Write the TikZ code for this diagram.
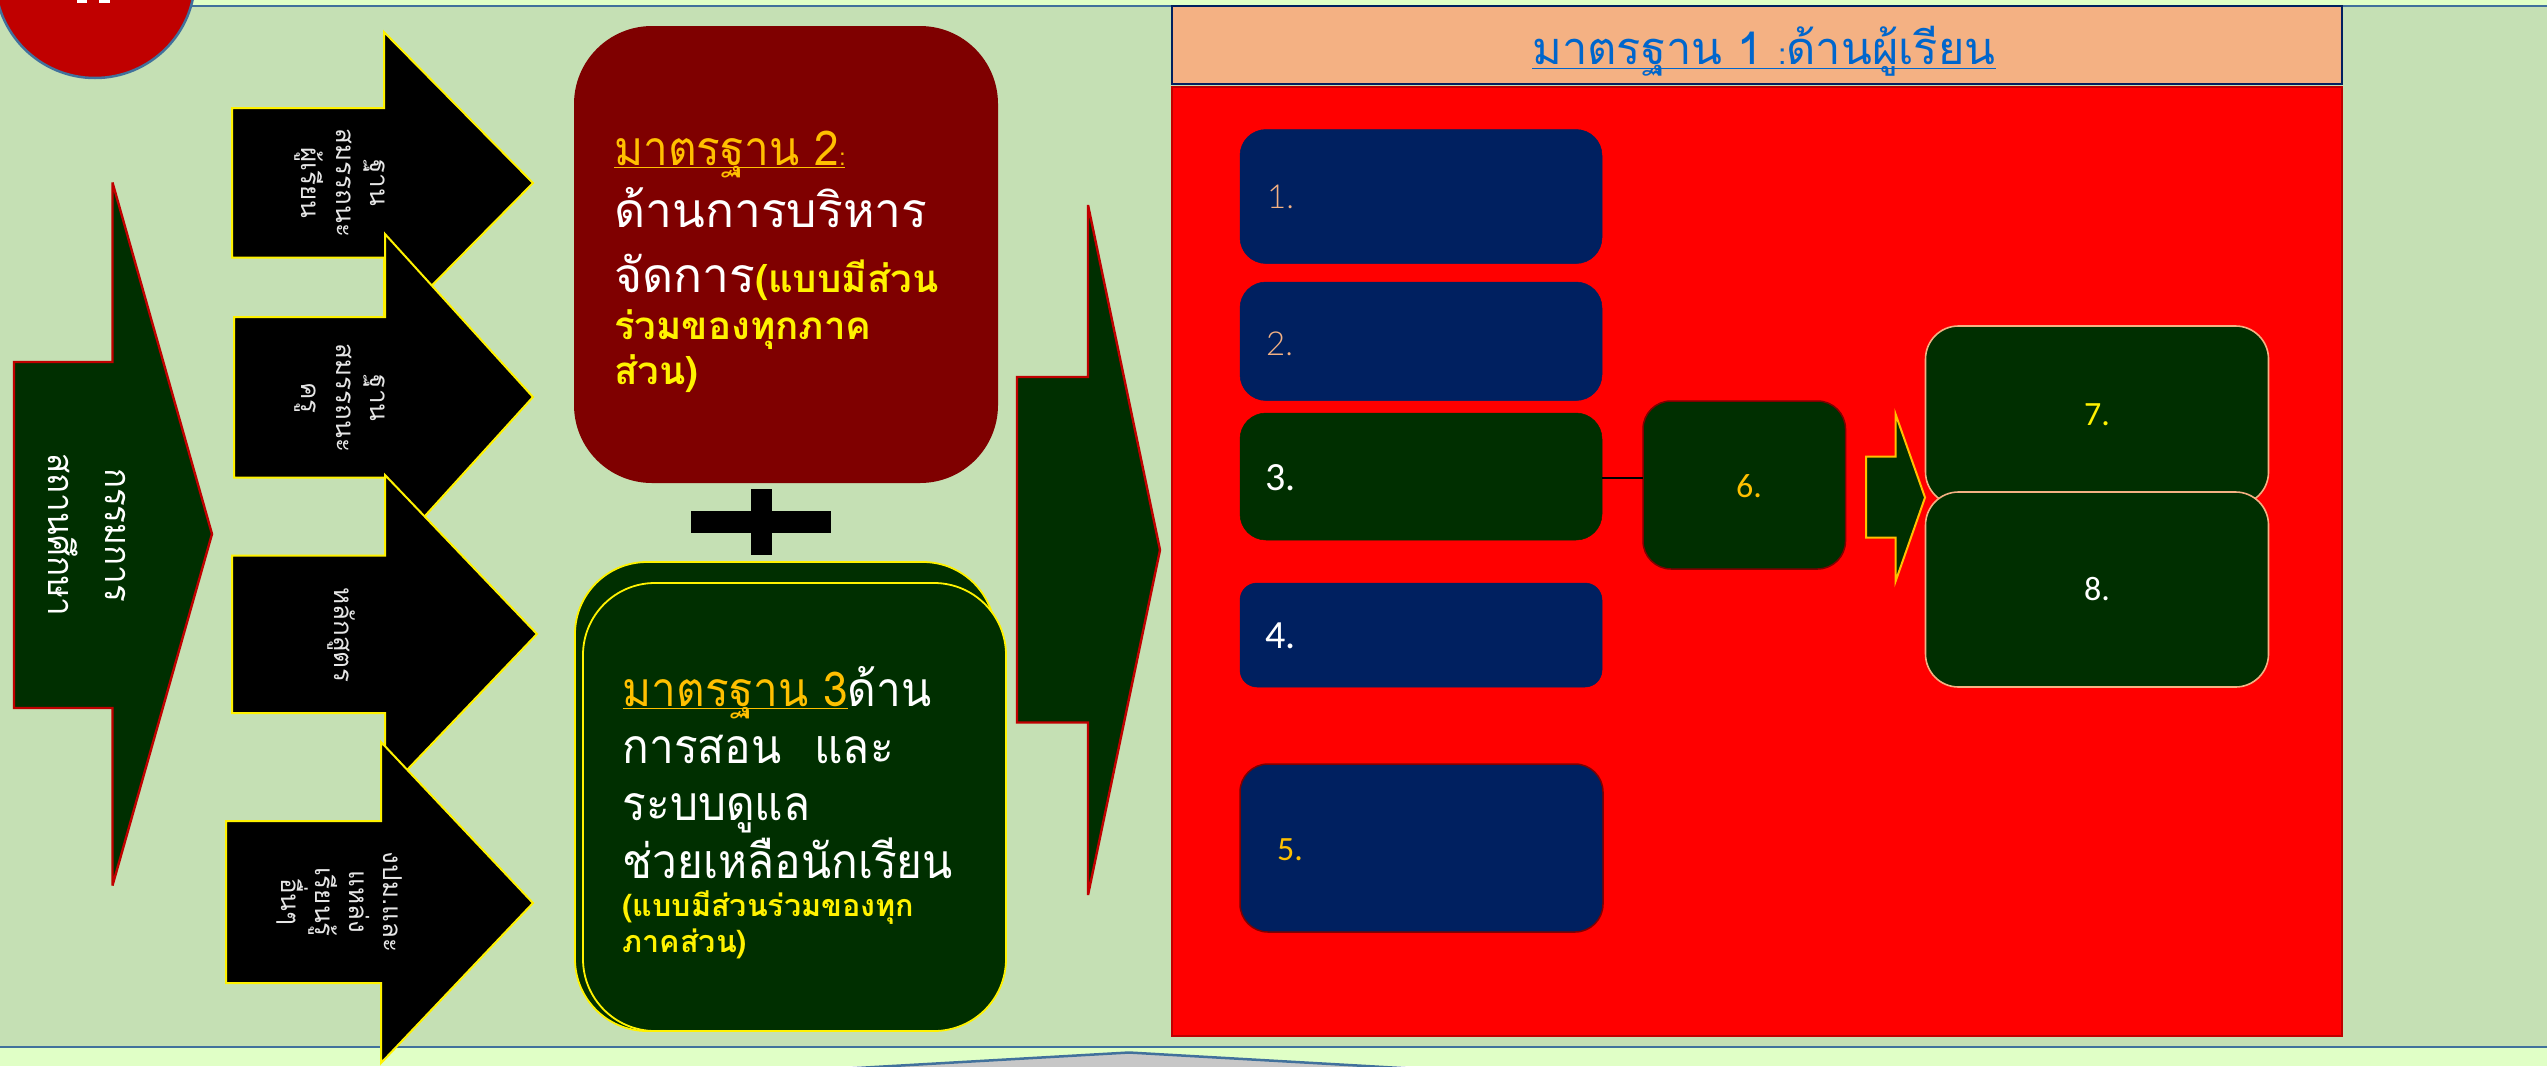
\documentclass[tikz,border=0pt]{standalone}
\usepackage{fontspec}
\newfontfamily\thaifont[Script=Thai]{Loma}
\newfontfamily\thaicond[Script=Thai,FakeStretch=0.92]{Loma}
\newfontfamily\digf{Carlito}
\newfontfamily\lightf{Lato Light}
\definecolor{bggreen}{HTML}{C5E0B4}
\definecolor{band}{HTML}{E0FFC6}
\definecolor{edgeblue}{HTML}{41719C}
\definecolor{dgreen}{HTML}{002F00}
\definecolor{navy}{HTML}{002060}
\definecolor{maroon}{HTML}{7F0000}
\definecolor{gold}{HTML}{FFC000}
\definecolor{peach}{HTML}{F4B183}
\definecolor{darkred}{HTML}{C00000}
\definecolor{linkblue}{HTML}{0066CC}
\definecolor{greyw}{HTML}{E6E6E6}
\newcommand\fs[1]{\fontsize{#1}{#1}\selectfont}
\newcommand\myul[2][3pt]{\setbox0\hbox{#2}\rlap{\rule[-#1]{\wd0}{1.5pt}}\box0}
\newcommand\tline[2]{\vbox to #1{\vss\hbox{\smash{#2}}}}
\newcommand\blockarrow[9]{\draw[#1] (#2,#3) -- (#5,#3) -- (#5,#6) -- (#7,#8) -- (#5,#9) -- (#5,#4) -- (#2,#4) -- cycle;}
\tikzset{
  box/.style={inner sep=0pt,outer sep=0pt,draw},
  blackarrow/.style={fill=black,draw=yellow,line width=2pt},
  greenarrow/.style={fill=dgreen,draw=darkred,line width=2.4pt,miter limit=3},
  vtext/.style={rotate=-90,align=center,text=greyw,inner sep=0pt},
  num/.style={anchor=base west,inner sep=0pt},
  tblock/.style={anchor=base west,inner sep=0pt},
  bluebox/.style={box,fill=navy,draw=navy,line width=0.5pt},
  greenbox/.style={box,fill=dgreen,draw=dgreen,line width=0.5pt},
}
\begin{document}
\begin{tikzpicture}[x=1pt,y=-1pt]
\useasboundingbox (0,0) rectangle (2547,1066);
\clip (0,0) rectangle (2547,1066);
% background bands
\fill[band] (0,0) rectangle (2547,1066);
\fill[bggreen] (0,6) rectangle (2547,1047);
\draw[edgeblue,line width=2.5pt] (0,6) -- (2547,6);
\draw[edgeblue,line width=2.5pt] (0,1047) -- (2547,1047);
% grey shape at bottom
\draw[fill=black!22,draw=edgeblue,line width=2.5pt] (690,1077.5) -- (1129,1052.5) -- (1568,1077.5) -- cycle;
% red circle
\draw[fill=darkred,draw=edgeblue,line width=2.5pt] (95,-22) circle[radius=100];
\fill[white] (77,0) rectangle (87,3);
\fill[white] (99,0) rectangle (110,3);
% big left arrow
\blockarrow{greenarrow}{14}{362}{708}{112.5}{182.5}{212}{534}{885.5}
\node[vtext,text=white,font=\thaicond\fontsize{36}{57}\selectfont] (committee) at (87,535) {กรรมการ\\สถานศึกษา};
% black arrows
\blockarrow{blackarrow}{232}{108}{257.5}{384}{32}{533}{183}{334}
\node[vtext,font=\thaifont\fontsize{26}{34.5}\selectfont] (a1) at (340,183) {ฐาน\\สมรรถนะ\\ผู้เรียน};
\blockarrow{blackarrow}{234}{317}{477.5}{385}{234}{533}{397}{560}
\node[vtext,font=\thaifont\fontsize{26}{34.5}\selectfont] (a2) at (340,398) {ฐาน\\สมรรถนะ\\ครู};
\blockarrow{blackarrow}{232}{555.5}{713}{385}{475}{537}{634}{793}
\node[vtext,font=\thaifont\fs{26}] (a3) at (341,635) {หลักสูตร};
\blockarrow{blackarrow}{226}{821}{983}{381}{742}{533}{903}{1063}
\node[vtext,font=\thaifont\fontsize{26}{34}\selectfont] (a4) at (340,902) {งปม.และ\\แหล่ง\\เรียนรู้\\อื่นๆ};
% standard 2
\node[box,fill=maroon,draw=none,rounded corners=78pt,minimum width=424pt,minimum height=457pt] (s2) at (786,254.5) {};
\node[tblock,font=\thaifont] (s2text) at (614,384) {\vbox{\offinterlineskip
  \tline{62pt}{\thaicond\fs{48}\color{gold}\myul{มาตรฐาน 2{\fs{24}:}}}
  \tline{62pt}{\fs{48}\color{white}ด้านการบริหาร}
  \tline{65pt}{\fs{48}\color{white}จัดการ{\bfseries\fs{38.5}\color{yellow}(แบบมีส่วน}}
  \tline{47pt}{\bfseries\fs{38.5}\color{yellow}ร่วมของทุกภาค}
  \tline{45pt}{\bfseries\fs{38.5}\color{yellow}ส่วน)}}};
% plus sign
\fill[black] (691,511) rectangle (831,533);
\fill[black] (750.5,489) rectangle (771.5,554.5);
% standard 3
\node[box,fill=dgreen,draw=yellow,line width=1.8pt,rounded corners=72pt,minimum width=420pt,minimum height=469pt] (s3back) at (785,796.5) {};
\node[box,fill=dgreen,draw=yellow,line width=1.8pt,rounded corners=72pt,minimum width=423pt,minimum height=448pt] (s3) at (794.5,807) {};
\node[tblock,font=\thaicond] (s3text) at (622.5,952) {\vbox{\offinterlineskip
  \tline{60pt}{\fs{48}\color{gold}\myul{มาตรฐาน 3}\color{white}ด้าน}
  \tline{57pt}{\fs{48}\color{white}การสอน\hspace{18pt} และ}
  \tline{57pt}{\fs{48}\color{white}ระบบดูแล}
  \tline{58pt}{\fs{48}\color{white}ช่วยเหลือนักเรียน}
  \tline{38pt}{\thaifont\bfseries\fs{30.5}\color{yellow}(แบบมีส่วนร่วมของทุก}
  \tline{36pt}{\thaifont\bfseries\fs{30.5}\color{yellow}ภาคส่วน)}}};
% middle arrow
\blockarrow{greenarrow}{1017}{377}{722.5}{1088}{205}{1160}{550}{895}
% panel
\node[box,fill=peach,draw=navy,line width=2.2pt,minimum width=1170pt,minimum height=78pt] (head) at (1757,45) {};
\node[inner sep=0pt,anchor=base,font=\thaifont,text=linkblue] (headtext) at (1764,64) {\fs{45.2}\myul[5pt]{มาตรฐาน 1 {\fs{30}:}ด้านผู้เรียน}};
\node[box,fill=red,draw=darkred,line width=2.2pt,minimum width=1170pt,minimum height=949pt] (panel) at (1757,561.5) {};
% boxes
\node[bluebox,rounded corners=26pt,minimum width=362pt,minimum height=134pt] (b1) at (1421,196.5) {};
\node[bluebox,rounded corners=26pt,minimum width=362pt,minimum height=118.5pt] (b2) at (1421,341.25) {};
\node[greenbox,rounded corners=26pt,minimum width=362pt,minimum height=127pt] (b3) at (1421,476.5) {};
\node[bluebox,rounded corners=17pt,minimum width=362pt,minimum height=104pt] (b4) at (1421,635) {};
\node[box,fill=navy,draw=maroon,line width=1.5pt,rounded corners=28pt,minimum width=363pt,minimum height=168pt] (b5) at (1421.5,848) {};
\node[box,fill=dgreen,draw=maroon,line width=1.5pt,rounded corners=28pt,minimum width=202.5pt,minimum height=168pt] (b6) at (1744.25,485) {};
\draw[black,line width=1.8pt] ([yshift=-1.5pt]b3.east) -- ([yshift=-1.5pt]b3.east -| b6.west);
\blockarrow{fill=dgreen,draw=gold,line width=2pt}{1866}{456.5}{537.5}{1895.5}{414}{1925}{497.5}{581.5}
\node[box,fill=dgreen,draw=peach,line width=1.6pt,rounded corners=33pt,minimum width=343pt,minimum height=179pt] (b7) at (2097,415.5) {};
\node[box,fill=dgreen,draw=peach,line width=1.6pt,rounded corners=33pt,minimum width=343pt,minimum height=195pt] (b8) at (2097,589.5) {};
% numbers
\node[num,text=peach,font=\lightf\fs{33}] (n1) at (1267,208) {1.};
\node[num,text=peach,font=\lightf\fs{33}] (n2) at (1266,355.5) {2.};
\node[num,text=white,font=\digf\fs{40}] (n3) at (1265,490) {3.};
\node[num,text=white,font=\digf\fs{40}] (n4) at (1265,648) {4.};
\node[num,text=gold,font=\digf\fs{34}] (n5) at (1277,860.5) {5.};
\node[num,text=gold,font=\digf\fs{34}] (n6) at (1736,497) {6.};
\node[num,text=yellow,font=\digf\fs{34}] (n7) at (2084,425) {7.};
\node[num,text=white,font=\digf\fs{34}] (n8) at (2084,600) {8.};
\end{tikzpicture}
\end{document}
